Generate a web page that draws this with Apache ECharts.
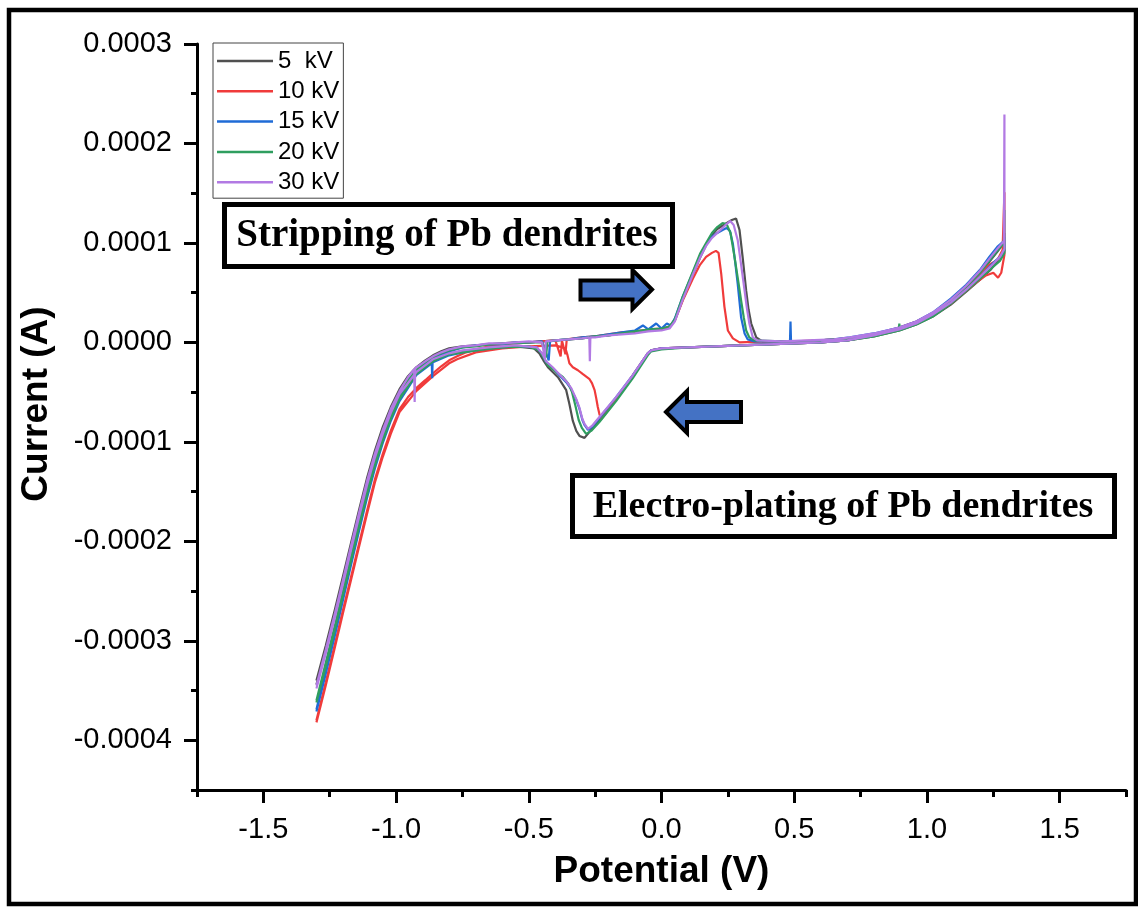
<!DOCTYPE html>
<html lang="en">
<head>
    <meta charset="UTF-8">
    <title>CV of Pb dendrites</title>
    <script src="https://cdn.jsdelivr.net/npm/echarts@6/dist/echarts.min.js"></script>
    <style>
        html, body { margin: 0; padding: 0; background: #fff; }
        #main { width: 1138px; height: 907px; }
    </style>
</head>
<body>
<div id="main"></div>
<script type="text/javascript">
    // tick values
    var xMajor = [-1.5, -1.0, -0.5, 0.0, 0.5, 1.0, 1.5];
    var xMinor = [-1.75, -1.25, -0.75, -0.25, 0.25, 0.75, 1.25, 1.75];
    var yMajor = [-0.0004, -0.0003, -0.0002, -0.0001, 0, 0.0001, 0.0002, 0.0003];
    var yMinor = [-0.00045, -0.00035, -0.00025, -0.00015, -0.00005, 0.00005, 0.00015, 0.00025];

    var seriesNames = ['5  kV', '10 kV', '15 kV', '20 kV', '30 kV'];
    var seriesColors = ['#505050', '#f03b3b', '#1f6bd6', '#2f9e5f', '#b27ae3'];

    // [potential (V), current (A)] in scan order: forward from -1.3 V, back from 1.29 V
    var kv5 = [
        [-1.300,-3.40e-4],[-1.265,-3.05e-4],[-1.230,-2.68e-4],[-1.200,-2.35e-4],[-1.170,-2.02e-4],[-1.140,-1.69e-4],
        [-1.110,-1.37e-4],[-1.080,-1.09e-4],[-1.050,-8.5e-5],[-1.020,-6.5e-5],[-0.987,-4.7e-5],[-0.955,-3.4e-5],
        [-0.924,-2.5e-5],[-0.890,-1.8e-5],[-0.861,-1.3e-5],[-0.830,-9e-6],[-0.800,-6e-6],[-0.750,-4e-6],[-0.700,-3e-6],
        [-0.650,-2e-6],[-0.600,-1e-6],[-0.550,0],[-0.500,0],[-0.450,1e-6],[-0.400,2e-6],[-0.350,3e-6],[-0.300,4e-6],
        [-0.250,6e-6],[-0.200,7e-6],[-0.150,9e-6],[-0.100,1.0e-5],[-0.050,1.2e-5],[0.000,1.3e-5],[0.030,1.5e-5],
        [0.050,2.2e-5],[0.080,4.3e-5],[0.118,6.8e-5],[0.145,8.5e-5],[0.168,9.8e-5],[0.190,1.08e-4],[0.210,1.14e-4],
        [0.240,1.19e-4],[0.265,1.23e-4],[0.281,1.245e-4],[0.294,1.13e-4],[0.306,8.5e-5],[0.319,5.2e-5],[0.328,3.3e-5],
        [0.338,1.9e-5],[0.357,5e-6],[0.380,1e-6],[0.450,1e-6],[0.550,1e-6],[0.650,3e-6],[0.710,4e-6],[0.800,8e-6],
        [0.896,1.4e-5],[0.960,2.0e-5],[1.022,2.8e-5],[1.090,4.1e-5],[1.148,5.5e-5],[1.200,6.9e-5],[1.235,8.1e-5],
        [1.265,9.1e-5],[1.290,1.00e-4],[1.292,1.10e-4],
        [1.292,9.4e-5],[1.270,8.4e-5],[1.240,7.3e-5],[1.200,6.3e-5],[1.148,5.1e-5],[1.090,3.8e-5],[1.022,2.6e-5],
        [0.960,1.8e-5],[0.896,1.2e-5],[0.800,6e-6],[0.700,2e-6],[0.600,0],[0.500,-1e-6],[0.400,-2e-6],[0.300,-3e-6],
        [0.200,-4e-6],[0.100,-5e-6],[0.000,-6e-6],[-0.039,-8e-6],[-0.052,-1.2e-5],[-0.108,-3.4e-5],[-0.171,-5.7e-5],
        [-0.234,-7.8e-5],[-0.290,-9.6e-5],[-0.309,-9.4e-5],[-0.321,-8.9e-5],[-0.334,-7.9e-5],[-0.347,-6.2e-5],
        [-0.359,-4.8e-5],[-0.390,-3.5e-5],[-0.428,-2.5e-5],[-0.445,-1.8e-5],[-0.460,-1.1e-5],[-0.480,-6e-6],
        [-0.550,-4e-6],[-0.650,-6e-6],[-0.750,-9e-6],[-0.800,-1.1e-5],[-0.861,-1.7e-5],[-0.924,-2.9e-5],[-0.987,-5.1e-5],
        [-1.020,-6.9e-5],[-1.050,-8.9e-5],[-1.080,-1.13e-4],[-1.110,-1.41e-4],[-1.140,-1.73e-4],[-1.170,-2.06e-4],
        [-1.200,-2.39e-4],[-1.230,-2.72e-4],[-1.265,-3.09e-4],[-1.300,-3.44e-4]
    ];
    var kv10 = [
        [-1.300,-3.80e-4],[-1.265,-3.42e-4],[-1.230,-3.03e-4],[-1.200,-2.69e-4],[-1.170,-2.36e-4],[-1.140,-2.03e-4],
        [-1.110,-1.70e-4],[-1.080,-1.38e-4],[-1.050,-1.12e-4],[-1.020,-8.9e-5],[-0.987,-6.7e-5],[-0.955,-5.5e-5],
        [-0.924,-4.6e-5],[-0.890,-3.8e-5],[-0.861,-3.1e-5],[-0.830,-2.4e-5],[-0.800,-1.8e-5],[-0.770,-1.4e-5],
        [-0.736,-1.0e-5],[-0.700,-7e-6],[-0.650,-4e-6],[-0.600,-2e-6],[-0.550,-1e-6],[-0.500,0],[-0.450,1e-6],
        [-0.400,2e-6],[-0.380,-1.4e-5],[-0.375,2e-6],[-0.362,-1.2e-5],[-0.357,3e-6],[-0.300,5e-6],[-0.250,6e-6],
        [-0.200,8e-6],[-0.150,1.0e-5],[-0.100,1.1e-5],[-0.050,1.3e-5],[0.000,1.4e-5],[0.030,1.6e-5],[0.050,2.2e-5],
        [0.080,4.2e-5],[0.118,6.4e-5],[0.145,7.8e-5],[0.168,8.6e-5],[0.190,9.0e-5],[0.205,9.2e-5],[0.215,9.0e-5],
        [0.225,6.9e-5],[0.237,3.6e-5],[0.250,1.2e-5],[0.269,4e-6],[0.294,0],[0.400,1e-6],[0.500,1e-6],[0.600,2e-6],
        [0.710,4e-6],[0.800,8e-6],[0.896,1.5e-5],[0.960,2.1e-5],[1.022,2.9e-5],[1.090,4.2e-5],[1.148,5.6e-5],
        [1.200,6.9e-5],[1.235,7.8e-5],[1.266,8.3e-5],[1.285,9.3e-5],[1.292,1.51e-4],
        [1.292,8.8e-5],[1.280,7.0e-5],[1.268,6.5e-5],[1.250,7.0e-5],[1.220,6.7e-5],[1.180,5.9e-5],[1.148,5.2e-5],
        [1.090,3.9e-5],[1.022,2.7e-5],[0.960,1.9e-5],[0.896,1.3e-5],[0.800,7e-6],[0.700,2e-6],[0.600,0],[0.500,-1e-6],
        [0.400,-2e-6],[0.300,-3e-6],[0.200,-4e-6],[0.100,-5e-6],[0.000,-6e-6],[-0.039,-8e-6],[-0.052,-1.1e-5],
        [-0.108,-3.3e-5],[-0.183,-6.2e-5],[-0.215,-7.3e-5],[-0.227,-7.7e-5],[-0.234,-7.2e-5],[-0.240,-6.5e-5],
        [-0.246,-5.6e-5],[-0.252,-4.8e-5],[-0.262,-4.1e-5],[-0.271,-3.7e-5],[-0.296,-3.2e-5],[-0.315,-2.8e-5],
        [-0.334,-2.5e-5],[-0.347,-2.1e-5],[-0.355,-1.2e-5],[-0.362,-6e-6],[-0.400,-3e-6],[-0.500,-4e-6],[-0.600,-6e-6],
        [-0.700,-1.0e-5],[-0.770,-1.7e-5],[-0.800,-2.1e-5],[-0.861,-3.4e-5],[-0.924,-4.9e-5],[-0.987,-7.0e-5],
        [-1.020,-9.2e-5],[-1.050,-1.15e-4],[-1.080,-1.41e-4],[-1.110,-1.73e-4],[-1.140,-2.06e-4],[-1.170,-2.39e-4],
        [-1.200,-2.72e-4],[-1.230,-3.06e-4],[-1.265,-3.45e-4],[-1.300,-3.82e-4]
    ];
    var kv15 = [
        [-1.300,-3.69e-4],[-1.265,-3.29e-4],[-1.230,-2.90e-4],[-1.200,-2.55e-4],[-1.170,-2.20e-4],[-1.140,-1.86e-4],
        [-1.110,-1.53e-4],[-1.080,-1.23e-4],[-1.050,-9.7e-5],[-1.020,-7.5e-5],[-0.987,-5.5e-5],[-0.955,-4.0e-5],
        [-0.924,-2.9e-5],[-0.890,-2.1e-5],[-0.866,-1.6e-5],[-0.864,-3.6e-5],[-0.862,-1.6e-5],[-0.830,-1.2e-5],
        [-0.800,-9e-6],[-0.750,-5e-6],[-0.700,-3e-6],[-0.650,-2e-6],[-0.600,-2e-6],[-0.550,0],[-0.500,0],[-0.450,1e-6],
        [-0.425,-1.8e-5],[-0.420,1e-6],[-0.400,2e-6],[-0.350,3e-6],[-0.300,5e-6],[-0.250,6e-6],[-0.200,8e-6],
        [-0.150,1.0e-5],[-0.100,1.2e-5],[-0.070,1.7e-5],[-0.050,1.3e-5],[-0.020,1.9e-5],[0.000,1.4e-5],[0.020,1.9e-5],
        [0.035,1.7e-5],[0.050,2.4e-5],[0.080,4.6e-5],[0.118,7.0e-5],[0.145,8.7e-5],[0.168,9.8e-5],[0.190,1.06e-4],
        [0.210,1.10e-4],[0.230,1.13e-4],[0.245,1.15e-4],[0.258,1.12e-4],[0.269,9.9e-5],[0.278,8.0e-5],[0.287,5.9e-5],
        [0.300,2.5e-5],[0.313,9e-6],[0.325,3e-6],[0.350,1e-6],[0.450,1e-6],[0.484,1e-6],[0.486,2.1e-5],[0.488,1e-6],
        [0.550,1e-6],[0.650,3e-6],[0.710,5e-6],[0.800,9e-6],[0.896,1.5e-5],[0.960,2.1e-5],[1.022,3.0e-5],[1.090,4.4e-5],
        [1.148,5.8e-5],[1.200,7.3e-5],[1.235,8.6e-5],[1.265,9.6e-5],[1.290,1.02e-4],[1.292,1.06e-4],
        [1.292,9.2e-5],[1.275,8.6e-5],[1.250,8.0e-5],[1.200,6.6e-5],[1.148,5.3e-5],[1.090,4.0e-5],[1.022,2.7e-5],
        [0.960,1.9e-5],[0.896,1.3e-5],[0.800,7e-6],[0.700,2e-6],[0.600,0],[0.500,-1e-6],[0.400,-2e-6],[0.300,-3e-6],
        [0.200,-4e-6],[0.100,-5e-6],[0.000,-6e-6],[-0.039,-8e-6],[-0.052,-1.1e-5],[-0.108,-3.3e-5],[-0.171,-5.5e-5],
        [-0.234,-7.6e-5],[-0.262,-8.5e-5],[-0.277,-8.8e-5],[-0.290,-8.3e-5],[-0.298,-7.8e-5],[-0.310,-6.6e-5],
        [-0.321,-5.8e-5],[-0.340,-4.7e-5],[-0.359,-4.0e-5],[-0.385,-3.3e-5],[-0.410,-2.6e-5],[-0.435,-2.0e-5],
        [-0.450,-1.2e-5],[-0.470,-5e-6],[-0.550,-4e-6],[-0.650,-6e-6],[-0.750,-1.0e-5],[-0.800,-1.3e-5],[-0.861,-2.0e-5],
        [-0.924,-3.3e-5],[-0.987,-5.9e-5],[-1.020,-7.9e-5],[-1.050,-1.01e-4],[-1.080,-1.27e-4],[-1.110,-1.57e-4],
        [-1.140,-1.90e-4],[-1.170,-2.24e-4],[-1.200,-2.59e-4],[-1.230,-2.94e-4],[-1.265,-3.33e-4],[-1.300,-3.71e-4]
    ];
    var kv20 = [
        [-1.300,-3.60e-4],[-1.265,-3.22e-4],[-1.230,-2.84e-4],[-1.200,-2.50e-4],[-1.170,-2.16e-4],[-1.140,-1.82e-4],
        [-1.110,-1.50e-4],[-1.080,-1.20e-4],[-1.050,-9.5e-5],[-1.020,-7.3e-5],[-0.987,-5.3e-5],[-0.955,-3.8e-5],
        [-0.924,-2.8e-5],[-0.890,-2.0e-5],[-0.861,-1.5e-5],[-0.830,-1.1e-5],[-0.800,-8e-6],[-0.750,-5e-6],
        [-0.700,-4e-6],[-0.650,-2e-6],[-0.600,-1e-6],[-0.550,-1e-6],[-0.500,0],[-0.450,0],[-0.435,-1.5e-5],
        [-0.430,1e-6],[-0.400,2e-6],[-0.350,3e-6],[-0.300,4e-6],[-0.250,6e-6],[-0.200,7e-6],[-0.150,9e-6],
        [-0.100,1.1e-5],[-0.050,1.3e-5],[0.000,1.4e-5],[0.030,1.6e-5],[0.050,2.3e-5],[0.080,4.6e-5],[0.118,7.1e-5],
        [0.145,8.9e-5],[0.168,1.00e-4],[0.190,1.10e-4],[0.210,1.16e-4],[0.230,1.20e-4],[0.245,1.19e-4],[0.260,1.10e-4],
        [0.275,8.6e-5],[0.290,6.0e-5],[0.300,4.2e-5],[0.310,2.5e-5],[0.319,1.2e-5],[0.331,5e-6],[0.350,2e-6],
        [0.450,1e-6],[0.550,1e-6],[0.650,3e-6],[0.710,4e-6],[0.800,8e-6],[0.894,1.3e-5],[0.896,1.9e-5],[0.898,1.3e-5],
        [0.960,2.0e-5],[1.022,2.9e-5],[1.090,4.2e-5],[1.148,5.6e-5],[1.200,7.0e-5],[1.235,8.2e-5],[1.265,9.2e-5],
        [1.290,1.00e-4],[1.292,1.33e-4],
        [1.292,9.0e-5],[1.275,8.2e-5],[1.250,7.6e-5],[1.200,6.4e-5],[1.148,5.2e-5],[1.090,3.9e-5],[1.022,2.6e-5],
        [0.960,1.8e-5],[0.896,1.2e-5],[0.800,6e-6],[0.700,2e-6],[0.600,0],[0.500,-1e-6],[0.400,-2e-6],[0.300,-3e-6],
        [0.200,-4e-6],[0.100,-5e-6],[0.000,-7e-6],[-0.039,-9e-6],[-0.052,-1.3e-5],[-0.108,-3.6e-5],[-0.171,-5.9e-5],
        [-0.234,-8.0e-5],[-0.265,-8.9e-5],[-0.284,-9.2e-5],[-0.300,-8.6e-5],[-0.312,-7.8e-5],[-0.325,-6.3e-5],
        [-0.337,-5.0e-5],[-0.350,-4.2e-5],[-0.371,-3.5e-5],[-0.400,-2.9e-5],[-0.428,-2.3e-5],[-0.445,-1.5e-5],
        [-0.460,-8e-6],[-0.500,-4e-6],[-0.600,-5e-6],[-0.700,-8e-6],[-0.800,-1.2e-5],[-0.861,-1.9e-5],[-0.924,-3.2e-5],
        [-0.987,-5.7e-5],[-1.020,-7.7e-5],[-1.050,-9.9e-5],[-1.080,-1.24e-4],[-1.110,-1.54e-4],[-1.140,-1.86e-4],
        [-1.170,-2.20e-4],[-1.200,-2.54e-4],[-1.230,-2.88e-4],[-1.265,-3.26e-4],[-1.300,-3.62e-4]
    ];
    var kv30 = [
        [-1.300,-3.45e-4],[-1.265,-3.09e-4],[-1.230,-2.72e-4],[-1.200,-2.39e-4],[-1.170,-2.05e-4],[-1.140,-1.72e-4],
        [-1.110,-1.40e-4],[-1.080,-1.12e-4],[-1.050,-8.8e-5],[-1.020,-6.7e-5],[-0.987,-4.9e-5],[-0.955,-3.5e-5],
        [-0.932,-2.7e-5],[-0.930,-6.0e-5],[-0.928,-2.6e-5],[-0.890,-1.9e-5],[-0.861,-1.4e-5],[-0.830,-1.0e-5],
        [-0.800,-7e-6],[-0.750,-4e-6],[-0.700,-3e-6],[-0.650,-1e-6],[-0.600,-1e-6],[-0.550,0],[-0.500,1e-6],
        [-0.450,0],[-0.440,-1.6e-5],[-0.436,1e-6],[-0.400,2e-6],[-0.350,3e-6],[-0.300,4e-6],[-0.272,5e-6],
        [-0.270,-1.9e-5],[-0.268,5e-6],[-0.250,5e-6],[-0.200,7e-6],[-0.150,8e-6],[-0.100,9e-6],[-0.050,1.1e-5],
        [0.000,1.2e-5],[0.030,1.4e-5],[0.050,2.1e-5],[0.080,4.3e-5],[0.118,6.8e-5],[0.145,8.5e-5],[0.168,9.7e-5],
        [0.190,1.05e-4],[0.210,1.10e-4],[0.230,1.15e-4],[0.245,1.19e-4],[0.259,1.22e-4],[0.272,1.18e-4],[0.287,1.03e-4],
        [0.300,7.8e-5],[0.313,5.2e-5],[0.322,3.4e-5],[0.331,1.9e-5],[0.344,5e-6],[0.360,2e-6],[0.450,1e-6],
        [0.550,2e-6],[0.650,3e-6],[0.710,5e-6],[0.800,9e-6],[0.896,1.5e-5],[0.960,2.1e-5],[1.022,3.0e-5],[1.090,4.3e-5],
        [1.148,5.7e-5],[1.200,7.2e-5],[1.235,8.4e-5],[1.265,9.4e-5],[1.290,1.02e-4],[1.292,2.29e-4],
        [1.292,9.4e-5],[1.275,8.6e-5],[1.250,7.9e-5],[1.200,6.6e-5],[1.148,5.3e-5],[1.090,4.0e-5],[1.022,2.8e-5],
        [0.960,1.9e-5],[0.896,1.3e-5],[0.800,7e-6],[0.700,2e-6],[0.600,0],[0.500,-1e-6],[0.400,-2e-6],[0.300,-3e-6],
        [0.200,-4e-6],[0.100,-5e-6],[0.000,-6e-6],[-0.039,-8e-6],[-0.052,-1.1e-5],[-0.108,-3.3e-5],[-0.171,-5.5e-5],
        [-0.234,-7.5e-5],[-0.262,-8.4e-5],[-0.277,-8.7e-5],[-0.290,-8.2e-5],[-0.298,-7.7e-5],[-0.310,-6.5e-5],
        [-0.321,-5.7e-5],[-0.340,-4.6e-5],[-0.359,-3.9e-5],[-0.385,-3.2e-5],[-0.410,-2.5e-5],[-0.435,-1.9e-5],
        [-0.450,-1.1e-5],[-0.470,-5e-6],[-0.550,-3e-6],[-0.650,-5e-6],[-0.750,-8e-6],[-0.800,-1.1e-5],[-0.861,-1.7e-5],
        [-0.924,-3.0e-5],[-0.987,-5.2e-5],[-1.020,-7.1e-5],[-1.050,-9.2e-5],[-1.080,-1.16e-4],[-1.110,-1.44e-4],
        [-1.140,-1.76e-4],[-1.170,-2.09e-4],[-1.200,-2.43e-4],[-1.230,-2.76e-4],[-1.265,-3.13e-4],[-1.300,-3.48e-4]
    ];
    var seriesData = [kv5, kv10, kv15, kv20, kv30];

    var sans = "'Liberation Sans', Arial, sans-serif";
    var serif = "'Liberation Serif', 'Times New Roman', serif";

    var myChart = echarts.init(document.getElementById('main'));

    var series = [];
    for (var i = 0; i < seriesData.length; i++) {
        series.push({
            name: seriesNames[i],
            type: 'line',
            data: seriesData[i],
            symbol: 'none',
            color: seriesColors[i],
            lineStyle: { width: 2.2, color: seriesColors[i] },
            xAxisIndex: 0,
            yAxisIndex: 0
        });
    }

    var option = {
        animation: false,
        backgroundColor: '#fff',
        grid: { left: 197, right: 12, top: 44, bottom: 117, outerBoundsMode: 'none' },
        legend: {
            orient: 'vertical',
            left: 213,
            top: 43,
            data: seriesNames,
            icon: 'rect',
            backgroundColor: '#fff',
            borderColor: '#444',
            borderWidth: 1,
            borderRadius: 0,
            padding: [6, 4, 4, 4],
            itemWidth: 56,
            itemHeight: 2.5,
            itemGap: 6.3,
            textStyle: { fontSize: 24, lineHeight: 24, color: '#000', fontFamily: sans }
        },
        xAxis: [{
            type: 'value',
            min: -1.75,
            max: 1.75,
            interval: 0.25,
            position: 'bottom',
            name: 'Potential (V)',
            nameLocation: 'middle',
            nameGap: 63,
            nameTextStyle: { fontSize: 37, fontWeight: 'bold', color: '#000', fontFamily: sans },
            axisLine: { onZero: false, lineStyle: { color: '#000', width: 3 } },
            axisTick: { customValues: xMajor, length: 13, lineStyle: { color: '#000', width: 3 } },
            axisLabel: {
                customValues: xMajor, margin: 25, fontSize: 29, color: '#000', fontFamily: sans,
                formatter: function (v) { return v.toFixed(1); }
            },
            splitLine: { show: false }
        }, {
            type: 'value',
            min: -1.75,
            max: 1.75,
            interval: 0.25,
            position: 'bottom',
            axisLine: { show: false, onZero: false },
            axisTick: { customValues: xMinor, length: 7, lineStyle: { color: '#000', width: 3 } },
            axisLabel: { show: false },
            splitLine: { show: false }
        }],
        yAxis: [{
            type: 'value',
            min: -0.00045,
            max: 0.0003,
            interval: 0.00005,
            position: 'left',
            name: 'Current (A)',
            nameLocation: 'middle',
            nameGap: 142,
            nameTextStyle: { fontSize: 37, fontWeight: 'bold', color: '#000', fontFamily: sans, padding: [0, 0, 0, 26] },
            axisLine: { onZero: false, lineStyle: { color: '#000', width: 3 } },
            axisTick: { customValues: yMajor, length: 13, lineStyle: { color: '#000', width: 3 } },
            axisLabel: {
                customValues: yMajor, margin: 25, fontSize: 29, color: '#000', fontFamily: sans,
                formatter: function (v) { return v.toFixed(4); }
            },
            splitLine: { show: false }
        }, {
            type: 'value',
            min: -0.00045,
            max: 0.0003,
            interval: 0.00005,
            position: 'left',
            axisLine: { show: false, onZero: false },
            axisTick: { customValues: yMinor, length: 6, lineStyle: { color: '#000', width: 3 } },
            axisLabel: { show: false },
            splitLine: { show: false }
        }],
        graphic: [
            // outer frame
            { type: 'rect', z: 100, silent: true, shape: { x: 9, y: 10, width: 1127, height: 894 },
              style: { fill: 'none', stroke: '#000', lineWidth: 4.5 } },
            // stripping label
            { type: 'rect', z: 100, shape: { x: 224.5, y: 204.5, width: 448, height: 62 },
              style: { fill: '#fff', stroke: '#000', lineWidth: 5 } },
            { type: 'text', z: 101, style: { text: 'Stripping of Pb dendrites', x: 447, y: 236,
              align: 'center', verticalAlign: 'middle', fill: '#000', font: 'bold 39px ' + serif } },
            // electro-plating label
            { type: 'rect', z: 100, shape: { x: 572.5, y: 475.5, width: 542, height: 61 },
              style: { fill: '#fff', stroke: '#000', lineWidth: 5 } },
            { type: 'text', z: 101, style: { text: 'Electro-plating of Pb dendrites', x: 843, y: 507,
              align: 'center', verticalAlign: 'middle', fill: '#000', font: 'bold 38px ' + serif } },
            // arrows
            { type: 'polygon', z: 100, shape: { points: [[580.5, 280.5], [632.5, 280.5], [632.5, 270], [652, 289.5],
                [632.5, 309], [632.5, 299.5], [580.5, 299.5]] },
              style: { fill: '#4472c4', stroke: '#000', lineWidth: 4 } },
            { type: 'polygon', z: 100, shape: { points: [[666, 412], [687, 391], [687, 402], [741, 402],
                [741, 422], [687, 422], [687, 433]] },
              style: { fill: '#4472c4', stroke: '#000', lineWidth: 4 } }
        ],
        series: series
    };
    myChart.setOption(option);
</script>
</body>
</html>
